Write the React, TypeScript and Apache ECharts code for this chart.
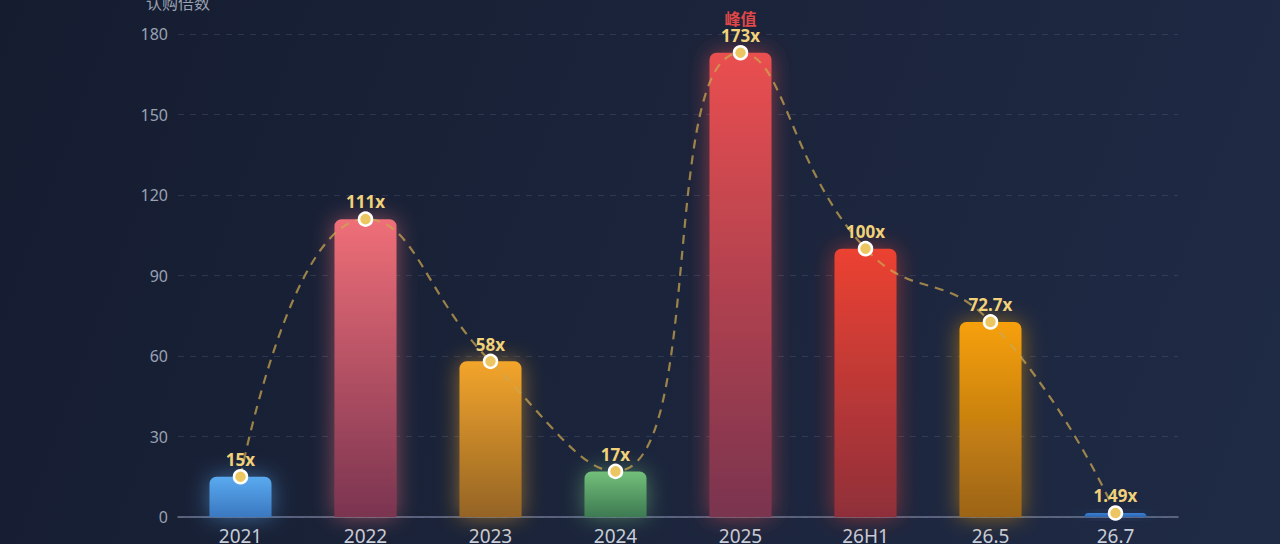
import React, { useEffect, useRef } from "react";
import * as echarts from "echarts";

const categories = ["2021", "2022", "2023", "2024", "2025", "26H1", "26.5", "26.7"];
const values = [15, 111, 58, 17, 173, 100, 72.7, 1.49];
const valueLabels = ["15x", "111x", "58x", "17x", "173x", "100x", "72.7x", "1.49x"];
const barTopColors = ["#5aaaf0", "#ef6f78", "#f3a52a", "#72c07a", "#ea4f50", "#ec4232", "#f7a00a", "#3a80d4"];
const barBottomColors = ["#3a78c0", "#7a3450", "#946427", "#3e7a52", "#7a3450", "#8f2f3a", "#9c6418", "#2f66b0"];
const peakIndex = 4;
const peakText = "峰值";
const yAxisName = "认购倍数";

const FONT = "'Noto Sans', 'Noto Sans CJK SC', sans-serif";

export default function App() {
  const ref = useRef<HTMLDivElement>(null);
  useEffect(() => {
    if (!ref.current) return;
    const chart = echarts.init(ref.current, undefined, { renderer: "svg" });
    const barData = values.map((v, i) => ({
      value: v,
      itemStyle: {
        color: new echarts.graphic.LinearGradient(0, 0, 0, 1, [
          { offset: 0, color: barTopColors[i] },
          { offset: 1, color: barBottomColors[i] },
        ]),
        borderRadius: [7, 7, 0, 0],
        shadowBlur: 22,
        shadowColor: barTopColors[i] + "88",
      },
    }));
    const lineData = values.map((v, i) => ({
      value: v,
      label:
        i === peakIndex
          ? {
              formatter: `{p|${peakText}}\n{v|${valueLabels[i]}}`,
            }
          : undefined,
    }));
    chart.setOption({
      animation: false,
      textStyle: { fontFamily: FONT },
      grid: { left: 178, right: 102, top: 34, bottom: 27, outerBoundsMode: "none", containLabel: false },
      xAxis: {
        type: "category",
        data: categories,
        axisLine: { lineStyle: { color: "#6b7590", width: 1.5 } },
        axisTick: { show: false },
        axisLabel: { color: "#c9cdd8", fontSize: 19, margin: 9, fontFamily: FONT },
      },
      yAxis: {
        type: "value",
        min: 0,
        max: 180,
        interval: 30,
        name: yAxisName,
        nameGap: 23,
        nameTextStyle: { color: "#9aa1b2", fontSize: 16, fontFamily: FONT },
        axisLine: { show: false },
        axisTick: { show: false },
        axisLabel: { color: "#9aa1b2", fontSize: 16, margin: 10, fontFamily: FONT },
        splitLine: { lineStyle: { color: "rgba(160,175,210,0.16)", type: [6, 6], width: 1 } },
      },
      series: [
        {
          type: "bar",
          data: barData,
          barWidth: 62,
          z: 2,
        },
        {
          type: "line",
          data: lineData,
          smooth: 0.5,
          z: 5,
          symbol: "circle",
          symbolSize: 13,
          itemStyle: { color: "#ecc660", borderColor: "#ffffff", borderWidth: 2.5 },
          lineStyle: { color: "rgba(205,168,80,0.72)", width: 2.2, type: [9, 7] },
          label: {
            show: true,
            position: "top",
            distance: 1,
            color: "#f1d27a",
            fontSize: 17,
            fontWeight: "bold",
            fontFamily: FONT,
            formatter: (p: any) => valueLabels[p.dataIndex],
            rich: {
              p: { color: "#e04848", fontSize: 16, fontWeight: "bold", lineHeight: 17, fontFamily: FONT },
              v: { color: "#f1d27a", fontSize: 17, fontWeight: "bold", lineHeight: 17, fontFamily: FONT },
            },
          },
        },
      ],
    });
    return () => chart.dispose();
  }, []);
  return (
    <div
      ref={ref}
      style={{
        position: "absolute",
        left: 0,
        top: 0,
        width: 1280,
        height: 544,
        background: "linear-gradient(110deg, #151c30 0%, #1a2339 45%, #1f2a45 100%)",
      }}
    />
  );
}
